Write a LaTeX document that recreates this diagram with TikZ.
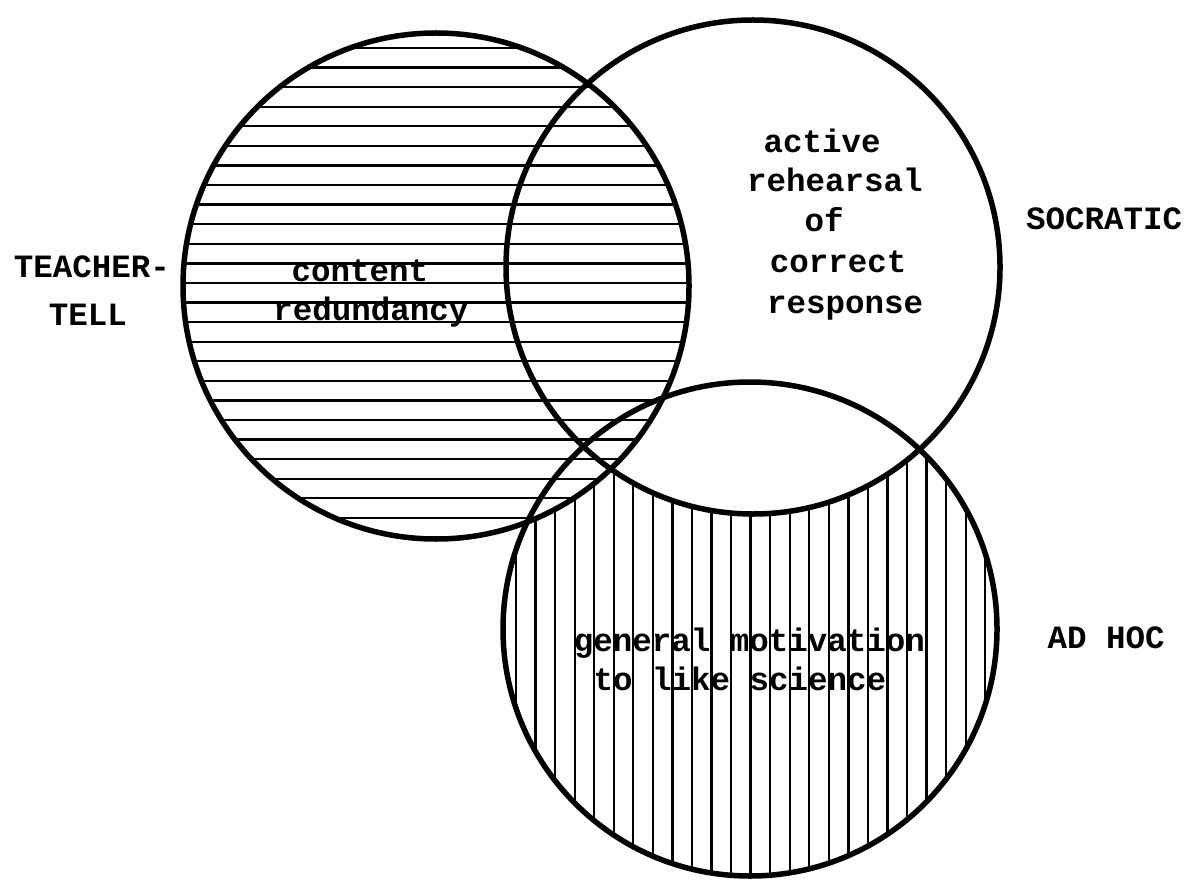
\documentclass[tikz,border=0pt]{standalone}
\usepackage{fontspec}
\setmonofont{Liberation Mono}
\begin{document}
\begin{tikzpicture}[x=1pt,y=-1pt,
  ring/.style={draw=black,line width=5.5pt},
  hatch/.style={draw=black,line width=2.3pt},
  lbl/.style={font=\ttfamily\bfseries\fontsize{32.5}{40}\selectfont,anchor=base,inner sep=0pt}]
\useasboundingbox (0,0) rectangle (1190,882);
\fill[white] (0,0) rectangle (1190,882);
\coordinate (cT) at (436,286);
\coordinate (cS) at (753,267);
\coordinate (cA) at (750,629);
% vertical hatching in AD HOC circle
\begin{scope}
  \clip (cA) circle (247);
  \foreach \k in {0,...,24} {
    \draw[hatch] ({516+19.55*\k},370) -- ({516+19.55*\k},890);
  }
\end{scope}
\fill[white] (cT) circle (253);
\fill[white] (cS) circle (247);
% horizontal hatching in TEACHER-TELL circle
\begin{scope}
  \clip (cT) circle (253);
  \foreach \k in {0,...,25} {
    \draw[hatch] (170,{48+19.58*\k}) -- (700,{48+19.58*\k});
  }
\end{scope}
\draw[ring] (cT) circle (253);
\draw[ring] (cS) circle (247);
\draw[ring] (cA) circle (247);
% labels
\node[lbl] (tt1) at (92,278) {TEACHER-};
\node[lbl] (tt2) at (88,325) {TELL};
\node[lbl] (soc) at (1104,230) {SOCRATIC};
\node[lbl] (adh) at (1106,648) {AD HOC};
\node[lbl] (cr1) at (360,282) {content};
\node[lbl] (cr2) at (371,320) {redundancy};
\node[lbl] (ar1) at (822,153) {active};
\node[lbl] (ar2) at (835,192) {rehearsal};
\node[lbl] (ar3) at (824,232) {of};
\node[lbl] (ar4) at (838,273) {correct};
\node[lbl] (ar5) at (845,313) {response};
\node[lbl] (gm1) at (749.5,651) {general motivation};
\node[lbl] (gm2) at (740,690) {to like science};
\end{tikzpicture}
\end{document}
